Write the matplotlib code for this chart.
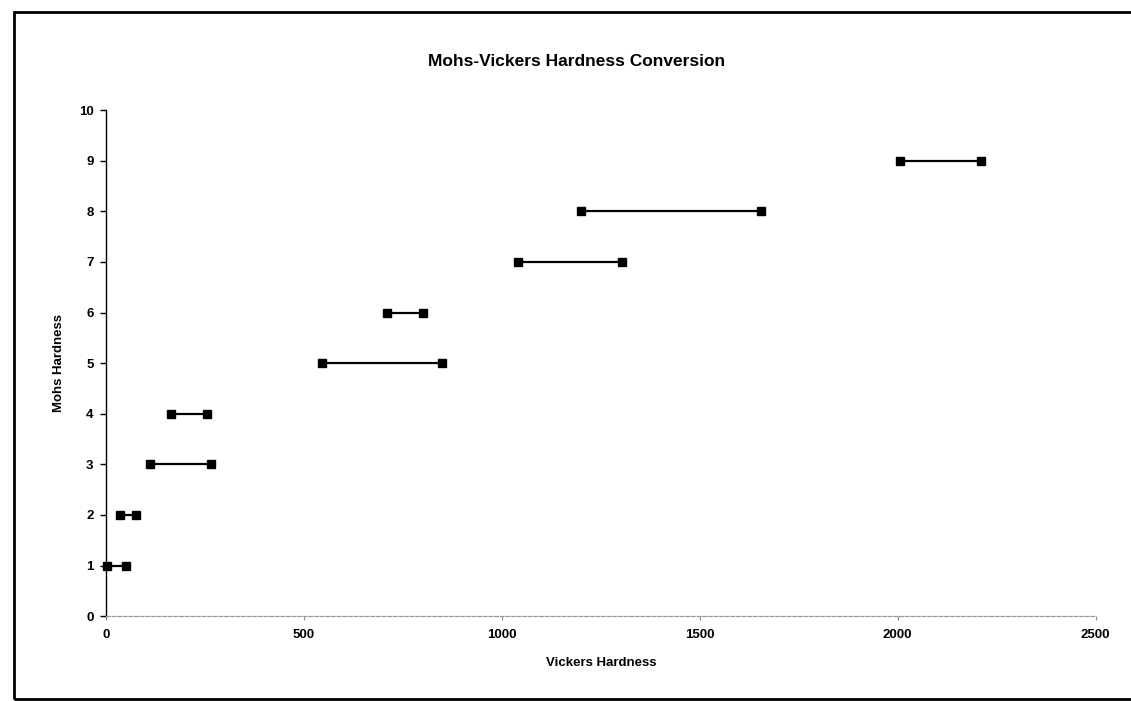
import matplotlib
matplotlib.use("Agg")
import matplotlib.pyplot as plt
from matplotlib.patches import Rectangle

plt.rcParams['font.family'] = ['Liberation Sans', 'DejaVu Sans']

# Mohs hardness and the Vickers range for each step
mohs = [1, 2, 3, 4, 5, 6, 7, 8, 9]
vickers_low = [2, 35, 110, 165, 545, 710, 1040, 1200, 2005]
vickers_high = [50, 77, 265, 255, 848, 800, 1303, 1655, 2210]

x_ticks = [0, 500, 1000, 1500, 2000, 2500]
y_ticks = list(range(0, 11))

fig = plt.figure(figsize=(11.31, 7.01), dpi=100)
ax = fig.add_axes([0.0937, 0.121, 0.875, 0.722])

for m, lo, hi in zip(mohs, vickers_low, vickers_high):
    ax.plot([lo, hi], [m, m], color='black', linewidth=1.6,
            marker='s', markersize=6, markerfacecolor='black',
            markeredgecolor='black', clip_on=False)

ax.set_xlim(0, 2500)
ax.set_ylim(0, 10)
ax.set_xticks(x_ticks)
ax.set_yticks(y_ticks)
ax.set_xticklabels([str(t) for t in x_ticks], fontsize=9.5, fontweight='bold')
ax.set_yticklabels([str(t) for t in y_ticks], fontsize=9.5, fontweight='bold')
ax.tick_params(axis='y', direction='out', length=4, width=1, pad=5, color='black')
ax.tick_params(axis='x', direction='out', length=3, width=0.8, pad=6, color='#888888')

ax.spines['top'].set_visible(False)
ax.spines['right'].set_visible(False)
ax.spines['left'].set_color('black')
ax.spines['left'].set_linewidth(1.0)
ax.spines['bottom'].set_color('#999999')
ax.spines['bottom'].set_linewidth(0.9)
ax.spines['bottom'].set_linestyle((0, (3, 1.5)))

ax.set_xlabel('Vickers Hardness', fontsize=9.5, fontweight='bold', labelpad=12)
ax.set_ylabel('Mohs Hardness', fontsize=9.5, fontweight='bold', labelpad=10)
fig.text(0.51, 0.912, 'Mohs-Vickers Hardness Conversion', ha='center', va='center',
         fontsize=12.5, fontweight='bold')

# scanned page frame
fig.patches.append(Rectangle((14 / 1131, 2 / 701), 1.2, (701 - 14) / 701,
                             transform=fig.transFigure, fill=False,
                             edgecolor='black', linewidth=2.0))

fig.savefig('out.png', dpi=100)
